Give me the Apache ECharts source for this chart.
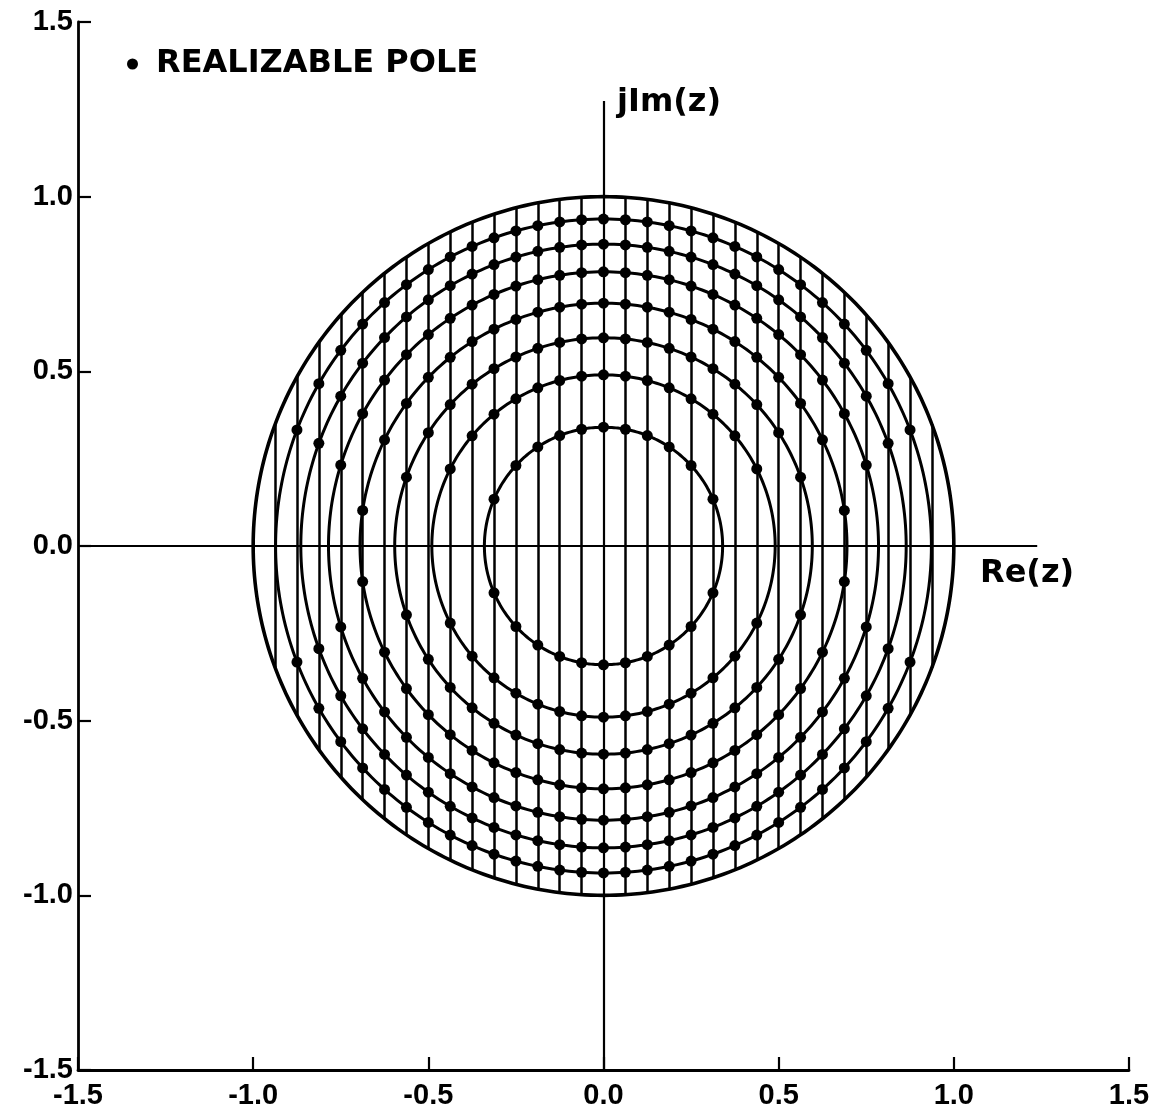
<!DOCTYPE html>
<html><head><meta charset="utf-8">
<script src="https://cdn.jsdelivr.net/npm/echarts@6/dist/echarts.min.js"></script>
<style>html,body{margin:0;padding:0;background:#fff}#c{width:1153px;height:1116px}</style>
</head><body><div id="c"></div>
<script>
// ---- data ----
const axisTicks = [-1.5, -1.0, -0.5, 0.0, 0.5, 1.0, 1.5];
const poleCircleRadii = [0.34, 0.49, 0.596, 0.695, 0.785, 0.864, 0.936];
const unitCircleRadius = 1.0;
const quantizedRe = [-0.9375, -0.875, -0.8125, -0.75, -0.6875, -0.625, -0.5625, -0.5,
  -0.4375, -0.375, -0.3125, -0.25, -0.1875, -0.125, -0.0625, 0.0,
  0.0625, 0.125, 0.1875, 0.25, 0.3125, 0.375, 0.4375, 0.5,
  0.5625, 0.625, 0.6875, 0.75, 0.8125, 0.875, 0.9375];
const reAxisExtent = [-1.5, 1.238];
const imAxisExtent = [-1.5, 1.274];
const legendLabel = 'REALIZABLE POLE';
const reLabel = 'Re(z)';
const imLabel = 'jIm(z)';

// ---- geometry built from the data ----
function circle(r) {
  const pts = [];
  for (let i = 0; i <= 360; i++) {
    const a = i * Math.PI / 180;
    pts.push([r * Math.cos(a), r * Math.sin(a)]);
  }
  return pts;
}
const verticalLines = quantizedRe.filter(x => x !== 0).map(x => {
  const h = Math.sqrt(unitCircleRadius * unitCircleRadius - x * x);
  return { coords: [[x, -h], [x, h]] };
});
const poleDots = [];
poleCircleRadii.forEach(r => {
  quantizedRe.forEach(x => {
    if (Math.abs(x) < r) {
      const y = Math.sqrt(r * r - x * x);
      poleDots.push([x, y]);
      poleDots.push([x, -y]);
    }
  });
});

const FONT = '"DejaVu Sans", sans-serif';
const chart = echarts.init(document.getElementById('c'), null, { renderer: 'canvas' });
const axisCommon = {
  type: 'value', min: axisTicks[0], max: axisTicks[axisTicks.length - 1], interval: 0.5,
  axisLine: { show: true, onZero: false, lineStyle: { color: '#000', width: 2.8 } },
  axisTick: { show: true, inside: true, length: 13, lineStyle: { color: '#000', width: 2.2 } },
  splitLine: { show: false },
  axisLabel: {
    color: '#000', fontFamily: '"Liberation Sans", sans-serif', fontWeight: 'bold', fontSize: 29,
    formatter: v => v.toFixed(1)
  }
};
chart.setOption({
  animation: false,
  backgroundColor: '#fff',
  grid: { left: 78, right: 24, top: 22, bottom: 46, containLabel: false },
  xAxis: Object.assign({}, axisCommon, { axisLabel: Object.assign({}, axisCommon.axisLabel, { margin: 11 }) }),
  yAxis: Object.assign({}, axisCommon, { axisLabel: Object.assign({}, axisCommon.axisLabel, { margin: 5 }) }),
  legend: {
    show: true, left: 122, top: 43, itemWidth: 11, itemHeight: 11,
    data: [{ name: legendLabel, icon: 'circle' }],
    textStyle: { color: '#000', fontFamily: FONT, fontWeight: 'bold', fontSize: 32, padding: [0, 0, 0, 13] }
  },
  series: [
    { type: 'lines', coordinateSystem: 'cartesian2d', polyline: false, silent: true, z: 2,
      lineStyle: { color: '#000', width: 2.5, opacity: 1 }, data: verticalLines },
    { type: 'lines', coordinateSystem: 'cartesian2d', polyline: false, silent: true, z: 2,
      lineStyle: { color: '#000', width: 2.2, opacity: 1 },
      data: [{ coords: [[reAxisExtent[0], 0], [reAxisExtent[1], 0]] },
             { coords: [[0, imAxisExtent[0]], [0, imAxisExtent[1]]] }] },
    { type: 'lines', coordinateSystem: 'cartesian2d', polyline: true, silent: true, z: 3,
      lineStyle: { color: '#000', width: 3, opacity: 1 },
      data: poleCircleRadii.map(r => ({ coords: circle(r) })) },
    { type: 'lines', coordinateSystem: 'cartesian2d', polyline: true, silent: true, z: 3,
      lineStyle: { color: '#000', width: 3.6, opacity: 1 },
      data: [{ coords: circle(unitCircleRadius) }] },
    { name: legendLabel, type: 'scatter', symbol: 'circle', symbolSize: 11, z: 5,
      itemStyle: { color: '#000', opacity: 1 }, data: poleDots }
  ],
  graphic: [
    { type: 'text', left: 617, top: 87, style: { text: imLabel, fill: '#000', font: 'bold 32px ' + FONT } },
    { type: 'text', left: 980, top: 558, style: { text: reLabel, fill: '#000', font: 'bold 32px ' + FONT } }
  ]
});
</script></body></html>
